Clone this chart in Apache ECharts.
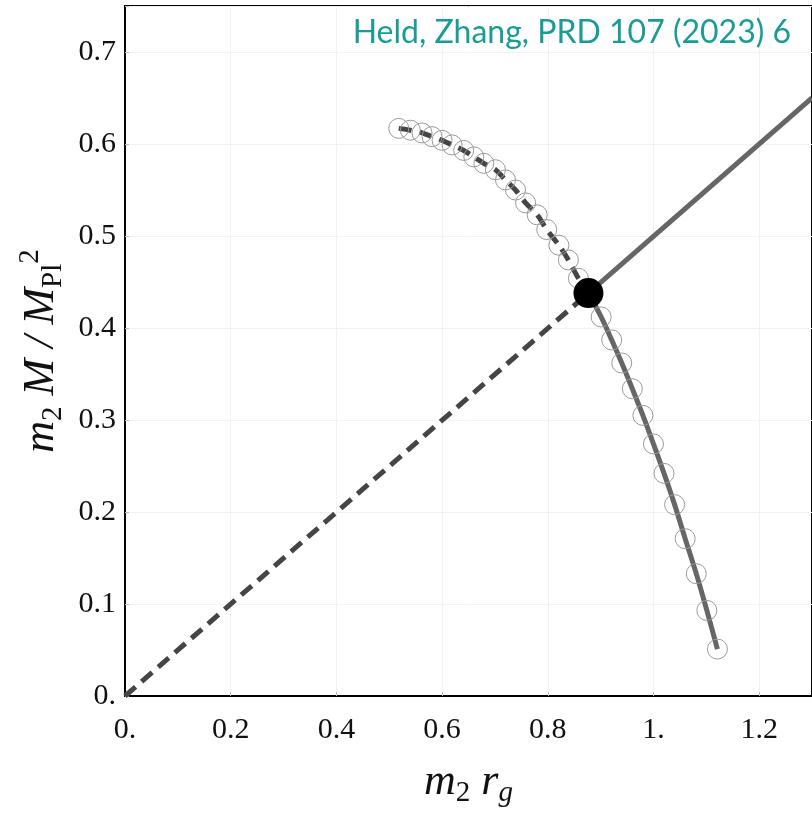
<!DOCTYPE html>
<html>
<head>
<meta charset="utf-8">
<script src="https://cdn.jsdelivr.net/npm/echarts@6/dist/echarts.min.js"></script>
<style>
  html, body { margin: 0; padding: 0; background: #fff; }
  #chart { width: 812px; height: 813px; }
</style>
</head>
<body>
<div id="chart"></div>
<script>
// upper branch (dashed)
var upperX = [0.518, 0.540, 0.562, 0.581, 0.600, 0.619, 0.641, 0.660, 0.679, 0.701, 0.720, 0.739, 0.758, 0.780, 0.798, 0.821, 0.839, 0.858];
var upperY = [0.617, 0.615, 0.612, 0.608, 0.604, 0.599, 0.593, 0.586, 0.579, 0.572, 0.561, 0.550, 0.536, 0.523, 0.507, 0.490, 0.474, 0.454];
// lower branch (solid)
var lowerX = [0.901, 0.921, 0.940, 0.960, 0.980, 1.000, 1.020, 1.040, 1.060, 1.081, 1.101, 1.121];
var lowerY = [0.412, 0.387, 0.362, 0.334, 0.305, 0.274, 0.242, 0.208, 0.171, 0.133, 0.093, 0.051];
// crossing point and the straight line
var crossPoint = [0.877, 0.438];
var lineStart = [0, 0];
var lineEnd = [1.3, 0.65];

var xTicks = [0, 0.2, 0.4, 0.6, 0.8, 1.0, 1.2];
var yTicks = [0, 0.1, 0.2, 0.3, 0.4, 0.5, 0.6, 0.7];
var titleText = 'Held, Zhang, PRD 107 (2023) 6';

function zip(xs, ys) {
  return xs.map(function(x, i) { return [x, ys[i]]; });
}
function fmt(v) {
  var s = String(Math.round(v * 10) / 10);
  return s.indexOf('.') < 0 ? s + '.' : s;
}

var upper = zip(upperX, upperY);
var lower = zip(lowerX, lowerY);
var serif = 'Liberation Serif';
var dark = '#454545';
var mid = '#666666';

var nameRich = {
  i: { fontFamily: serif, fontStyle: 'italic', fontSize: 44, lineHeight: 52, color: '#111' },
  s: { fontFamily: serif, fontStyle: 'italic', fontSize: 29, lineHeight: 29, verticalAlign: 'bottom', color: '#111' },
  r: { fontFamily: serif, fontSize: 29, lineHeight: 29, verticalAlign: 'bottom', color: '#111' },
  p: { fontFamily: serif, fontSize: 29, lineHeight: 29, verticalAlign: 'top', color: '#111' }
};

var chart = echarts.init(document.getElementById('chart'));
chart.setOption({
  animation: false,
  title: {
    text: titleText,
    right: 16,
    top: 12,
    textStyle: { fontFamily: 'Lato', fontSize: 32, fontWeight: 'normal', color: '#1a9c96' }
  },
  grid: {
    left: 125, top: 6, right: -2, bottom: 117,
    show: true, borderColor: '#000', borderWidth: 2, backgroundColor: 'transparent'
  },
  xAxis: {
    type: 'value', min: 0, max: 1.3, interval: 0.2,
    name: '{i|m}{r|2}{i| r}{s|g}',
    nameLocation: 'middle', nameGap: 60,
    nameTextStyle: { rich: nameRich },
    axisLine: { lineStyle: { color: '#000', width: 2 } },
    axisTick: { inside: true, length: 4, lineStyle: { color: '#bbb' } },
    splitLine: { lineStyle: { color: '#f2f2f2', width: 1 } },
    axisLabel: {
      fontFamily: serif, fontSize: 30, color: '#111', margin: 19,
      showMaxLabel: false,
      formatter: function(v) { return xTicks.indexOf(Math.round(v * 10) / 10) >= 0 ? fmt(v) : ''; }
    }
  },
  yAxis: {
    type: 'value', min: 0, max: 0.75, interval: 0.1,
    name: '{i|m}{r|2}{i| M / M}{r|Pl}{p|2}',
    nameLocation: 'middle', nameGap: 54,
    nameTextStyle: { rich: nameRich },
    axisLine: { lineStyle: { color: '#000', width: 2 } },
    axisTick: { inside: true, length: 4, lineStyle: { color: '#bbb' } },
    splitLine: { lineStyle: { color: '#f2f2f2', width: 1 } },
    axisLabel: {
      fontFamily: serif, fontSize: 30, color: '#111', margin: 9,
      formatter: function(v) { return yTicks.indexOf(Math.round(v * 10) / 10) >= 0 ? fmt(v) : ''; }
    }
  },
  series: [
    {
      type: 'line', data: [lineStart, crossPoint], symbol: 'none', z: 2,
      lineStyle: { color: dark, width: 5, type: [14, 8] }
    },
    {
      type: 'line', data: [crossPoint, lineEnd], symbol: 'none', z: 2,
      lineStyle: { color: mid, width: 5 }
    },
    {
      type: 'line', data: upper.concat([crossPoint]), symbol: 'none', smooth: 0.3, z: 2,
      lineStyle: { color: dark, width: 5, type: [13, 8] }
    },
    {
      type: 'line', data: [crossPoint].concat(lower), symbol: 'none', smooth: 0.3, z: 2,
      lineStyle: { color: mid, width: 5 }
    },
    {
      type: 'scatter', data: upper.concat(lower), symbol: 'circle', symbolSize: 20, z: 3,
      itemStyle: { color: 'rgba(0,0,0,0)', borderColor: '#9a9a9a', borderWidth: 1, opacity: 1 }
    },
    {
      type: 'scatter', data: [crossPoint], symbol: 'circle', symbolSize: 30, z: 4,
      itemStyle: { color: '#000', opacity: 1 }
    }
  ]
});
</script>
</body>
</html>
